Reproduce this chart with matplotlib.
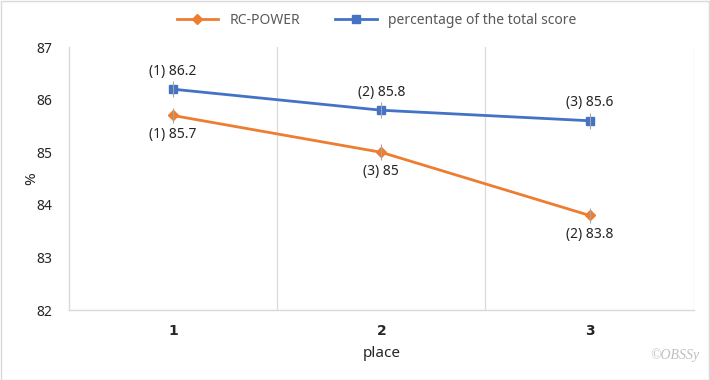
import numpy as np
import matplotlib.pyplot as plt
from matplotlib.patches import Rectangle

places = [1, 2, 3]
rc_power = [85.7, 85.0, 83.8]
rc_labels = ["(1) 85.7", "(3) 85", "(2) 83.8"]
total_pct = [86.2, 85.8, 85.6]
total_labels = ["(1) 86.2", "(2) 85.8", "(3) 85.6"]
err = 0.15

plt.rcParams["font.family"] = ["Noto Sans", "DejaVu Sans"]

fig = plt.figure(figsize=(7.1, 3.8), dpi=100)
ax = fig.add_axes([0.097, 0.184, 0.880, 0.692])

orange = "#ED7D31"
blue = "#4472C4"
grey = "#D9D9D9"

ax.plot(places, rc_power, color=orange, linewidth=2, marker="D", markersize=5,
        label="RC-POWER", zorder=3)
ax.plot(places, total_pct, color=blue, linewidth=2, marker="s", markersize=6,
        label="percentage of the total score", zorder=3)
ax.errorbar(places, rc_power, yerr=err, fmt="none", ecolor="#A6A6A6", elinewidth=0.8, zorder=4)
ax.errorbar(places, total_pct, yerr=err, fmt="none", ecolor="#A6A6A6", elinewidth=0.8, zorder=4)

for x, y, t in zip(places, rc_power, rc_labels):
    ax.annotate(t, (x, y), xytext=(0, -14), textcoords="offset points",
                ha="center", va="center", fontsize=10, color="#262626")
for x, y, t in zip(places, total_pct, total_labels):
    ax.annotate(t, (x, y), xytext=(0, 13), textcoords="offset points",
                ha="center", va="center", fontsize=10, color="#262626")

ax.set_xlim(0.5, 3.5)
ax.set_ylim(82, 87)
ax.set_xticks(places)
ax.set_xticklabels([str(p) for p in places])
for lbl in ax.get_xticklabels():
    lbl.set_fontweight("bold")
    lbl.set_family("DejaVu Sans")
ax.set_yticks(np.arange(82, 88, 1))
ax.tick_params(axis="both", length=0, labelsize=10, labelcolor="#262626")
ax.tick_params(axis="x", pad=10)
ax.tick_params(axis="y", pad=12)
for xg in [1.5, 2.5, 3.5]:
    ax.axvline(xg, color=grey, linewidth=0.9, zorder=0)

for s in ["top", "right"]:
    ax.spines[s].set_visible(False)
for s in ["left", "bottom"]:
    ax.spines[s].set_color(grey)
    ax.spines[s].set_linewidth(1)

ax.set_xlabel("place", fontsize=11, color="#262626", labelpad=6)
ax.set_ylabel("%", fontsize=11, color="#262626")
ax.yaxis.set_label_coords(-0.048, 0.5)

leg = fig.legend(loc="upper center", bbox_to_anchor=(0.53, 1.0), ncol=2, frameon=False,
                 fontsize=10, handlelength=3, columnspacing=2.5, labelcolor="#595959")

fig.text(0.985, 0.065, "©OBSSy", ha="right", va="center", fontsize=10,
         style="italic", family="Liberation Serif", color="#BFBFBF")

fig.patches.append(Rectangle((0.001, 0.001), 0.997, 0.997, transform=fig.transFigure,
                             fill=False, edgecolor=grey, linewidth=1))

fig.savefig("out.png", dpi=100)
